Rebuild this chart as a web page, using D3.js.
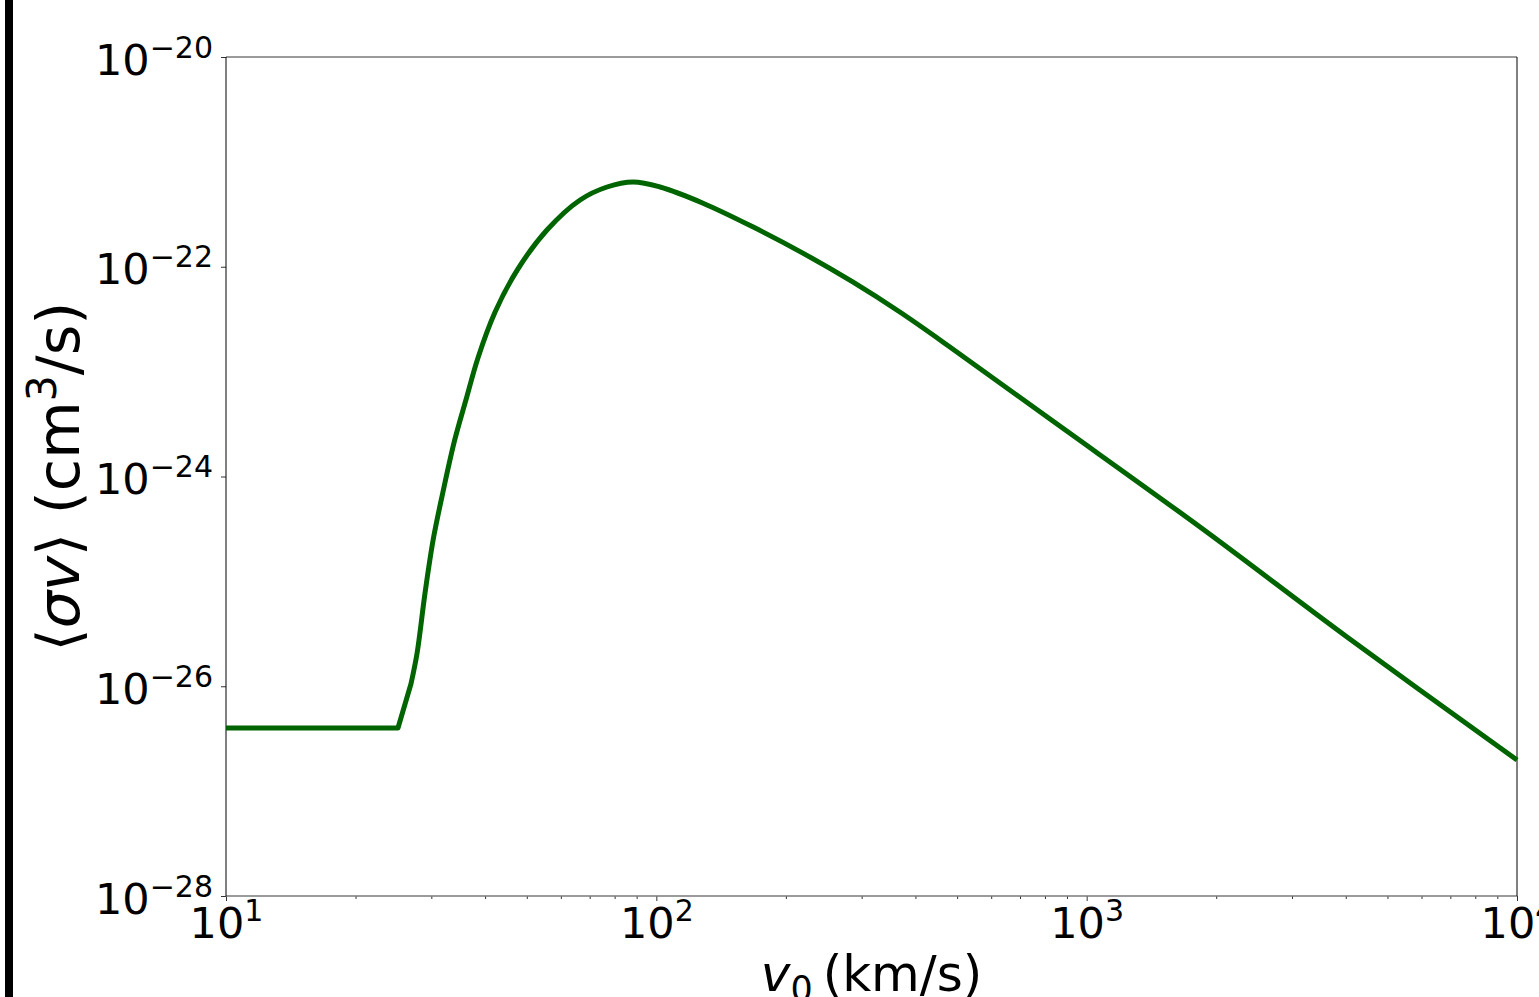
<!DOCTYPE html>
<html>
<head>
<meta charset="utf-8">
<script src="https://cdn.jsdelivr.net/npm/d3@7"></script>
<style>
    body { margin: 0; background: #fff; }
    svg { display: block; font-family: "DejaVu Sans", sans-serif; }
</style>
</head>
<body>
<svg id="chart" width="1539" height="997"></svg>
<script>
// Values (v0 in km/s, <sigma v> in cm^3/s).
const velocity = [10, 22.8, 25.1, 26.9, 27.8, 29.0, 30.3, 31.9, 34.0, 36.1, 38.5, 42.2, 47.5, 55.7, 66.5, 76.8, 88.3, 102, 128, 168, 219, 286, 368, 481, 822, 1834, 4027, 10000];
const sigmaV = [4.0e-27, 4.0e-27, 4.0e-27, 1.05e-26, 2.07e-26, 7.7e-26, 2.5e-25, 7.0e-25, 2.23e-24, 5.36e-24, 1.35e-23, 3.70e-23, 9.3e-23, 2.24e-22, 4.33e-22, 5.76e-22, 6.43e-22, 5.76e-22, 4.06e-22, 2.39e-22, 1.35e-22, 7.16e-23, 3.70e-23, 1.72e-23, 3.53e-24, 3.30e-25, 2.95e-26, 1.98e-27];

const xMajor = [1, 2, 3, 4];          // exponents
const yMajor = [-20, -22, -24, -26, -28];

const plotLeft = 226, plotRight = 1517, plotTop = 57, plotBottom = 896;
const font = "DejaVu Sans";

const svg = d3.select("#chart");

// left black rule
svg.append("rect")
    .attr("x", 5).attr("y", 0)
    .attr("width", 8).attr("height", 997)
    .attr("fill", "#000");

const x = d3.scaleLog().domain([1e1, 1e4]).range([plotLeft, plotRight]);
const y = d3.scaleLog().domain([1e-28, 1e-20]).range([plotBottom, plotTop]);

const xMinor = [];
for (let e = 1; e < 4; e++) {
    for (let m = 2; m <= 9; m++) xMinor.push(m * Math.pow(10, e));
}

// minor x ticks
svg.append("g")
    .attr("transform", `translate(0,${plotBottom})`)
    .call(d3.axisBottom(x).tickValues(xMinor).tickSize(3).tickFormat(""))
    .call(g => g.select(".domain").remove())
    .call(g => g.selectAll(".tick line").attr("stroke", "#333"));

// major x ticks
const xAxis = svg.append("g")
    .attr("transform", `translate(0,${plotBottom})`)
    .call(d3.axisBottom(x).tickValues(xMajor.map(e => Math.pow(10, e))).tickSize(5))
    .attr("font-family", font)
    .call(g => g.select(".domain").remove())
    .call(g => g.selectAll(".tick line").attr("stroke", "#333"));

xAxis.selectAll(".tick text")
    .each(function (d) {
        const t = d3.select(this).text(null)
            .attr("y", 42).attr("dy", null)
            .attr("fill", "#000")
            .style("font-size", "43px")
            .attr("text-anchor", "middle");
        t.append("tspan").text("10");
        t.append("tspan").attr("dy", -17).style("font-size", "30px")
            .text(String(Math.round(Math.log10(d))));
    });

// y ticks
const yAxis = svg.append("g")
    .attr("transform", `translate(${plotLeft},0)`)
    .call(d3.axisLeft(y).tickValues(yMajor.map(e => Math.pow(10, e))).tickSize(5))
    .attr("font-family", font)
    .call(g => g.select(".domain").remove())
    .call(g => g.selectAll(".tick line").attr("stroke", "#333"));

yAxis.selectAll(".tick text")
    .each(function (d) {
        const t = d3.select(this).text(null)
            .attr("x", -13).attr("dy", null).attr("y", 17)
            .attr("fill", "#000")
            .style("font-size", "43px")
            .attr("text-anchor", "end");
        t.append("tspan").text("10");
        t.append("tspan").attr("dy", -17).style("font-size", "30px")
            .text("\u2212" + Math.abs(Math.round(Math.log10(d))));
    });

// frame
svg.append("line").attr("x1", plotLeft).attr("x2", plotRight).attr("y1", plotTop).attr("y2", plotTop)
    .attr("stroke", "#7a7a7a").attr("stroke-width", 1.5);
svg.append("line").attr("x1", plotLeft).attr("x2", plotRight).attr("y1", plotBottom).attr("y2", plotBottom)
    .attr("stroke", "#7a7a7a").attr("stroke-width", 1.5);
svg.append("line").attr("x1", plotLeft).attr("x2", plotLeft).attr("y1", plotTop).attr("y2", plotBottom)
    .attr("stroke", "#000").attr("stroke-width", 1);
svg.append("line").attr("x1", plotRight).attr("x2", plotRight).attr("y1", plotTop).attr("y2", plotBottom)
    .attr("stroke", "#000").attr("stroke-width", 1);

// curve: straight plateau and first kink, smooth afterwards
const points = sigmaV.map((v, i) => [velocity[i], v]);
const kink = 3;

const straight = d3.line()
    .x(d => x(d[0]))
    .y(d => y(d[1]));

const smooth = d3.line()
    .x(d => x(d[0]))
    .y(d => y(d[1]))
    .curve(d3.curveCatmullRom.alpha(0.5));

svg.append("path")
    .attr("d", straight(points.slice(0, kink + 1)) + smooth(points.slice(kink)).replace(/^M[^C]*/, ""))
    .attr("fill", "none")
    .attr("stroke", "#006400")
    .attr("stroke-width", 5)
    .attr("stroke-linejoin", "round");

// x label
const xl = svg.append("text")
    .attr("x", (plotLeft + plotRight) / 2).attr("y", 991)
    .attr("text-anchor", "middle")
    .style("font-size", "50px");
xl.append("tspan").style("font-style", "italic").text("v");
xl.append("tspan").attr("dy", 10).style("font-size", "35px").text("0");
xl.append("tspan").attr("dy", -10).text("\u2009(km/s)");

// y label
const yl = svg.append("text")
    .attr("transform", `translate(79,${(plotTop + plotBottom) / 2}) rotate(-90)`)
    .attr("text-anchor", "middle")
    .style("font-size", "59px");
yl.append("tspan").text("\u27E8");
yl.append("tspan").style("font-style", "italic").text("\u03C3v");
yl.append("tspan").text("\u27E9 (cm");
yl.append("tspan").attr("dy", -23).style("font-size", "41px").text("3");
yl.append("tspan").attr("dy", 23).text("/s)");
</script>
</body>
</html>
